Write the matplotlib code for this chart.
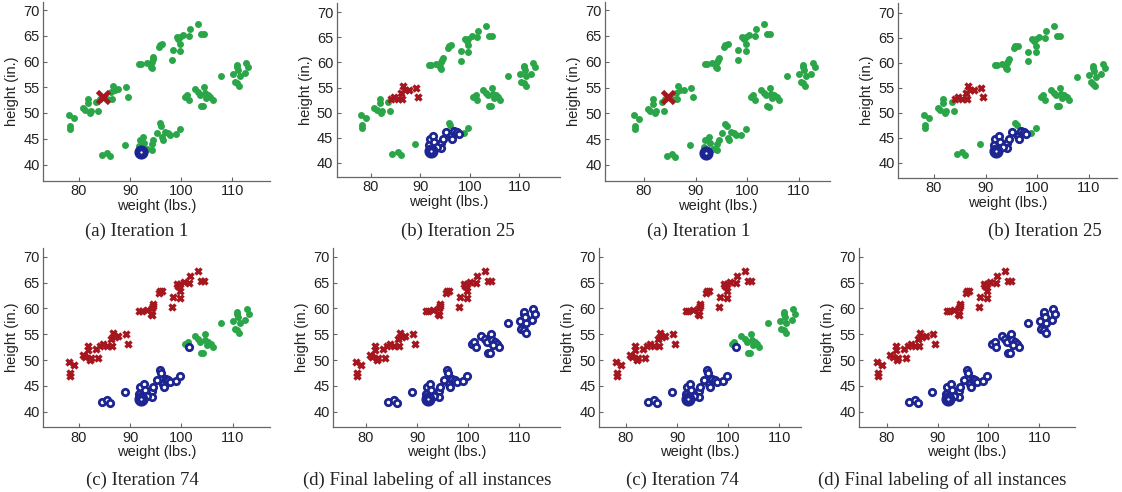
import numpy as np
import matplotlib
matplotlib.use("Agg")
from matplotlib import pyplot as plt

# instances: weight (lbs.), height (in.), grouped by band
weight = [
    # upper-left band
    78.1, 79.0, 78.2, 78.3, 80.7, 81.2, 81.8, 81.8, 82.1, 82.3, 83.8,
    83.4, 84.1, 84.7, 85.5, 86.4, 86.6, 87.0, 87.7, 89.2, 89.5, 86.2,
    # upper-middle band
    91.8, 92.2, 93.2, 94.2, 94.5, 94.0, 94.2, 94.4, 95.6, 95.8, 96.2, 98.3,
    98.2, 99.1, 99.4, 99.7, 99.7, 99.7, 100.4, 101.5, 101.7, 103.3, 103.9, 104.4,
    # lower band
    84.4, 85.5, 86.1, 89.0, 91.9, 92.6, 92.1, 91.7, 94.2, 94.5, 95.2, 95.8,
    96.0, 94.2, 96.3, 96.5, 96.9, 97.4, 97.8, 98.9, 99.7, 92.8, 93.3,
    # right-middle band
    100.7, 101.2, 101.5, 102.6, 103.3, 103.6, 104.5, 104.6, 103.9, 104.3,
    105.2, 105.7, 106.1, 104.9,
    # far-right band
    107.8, 110.1, 110.9, 110.9, 110.4, 110.9, 111.3, 111.4, 112.4, 112.7, 113.1, 111.1,
]
height = [
    49.6, 49.0, 47.5, 46.9, 50.9, 50.5, 52.7, 51.9, 50.0, 50.4, 50.4,
    52.2, 52.7, 53.1, 52.8, 52.7, 55.3, 54.5, 54.6, 55.0, 53.2, 54.0,
    59.5, 59.5, 59.7, 60.0, 60.8, 59.0, 58.7, 60.4, 62.9, 63.3, 63.4, 62.2,
    60.3, 64.7, 64.3, 64.7, 63.4, 62.1, 65.2, 65.0, 66.3, 67.3, 65.3, 65.3,
    41.8, 42.2, 41.6, 43.8, 44.8, 45.4, 42.4, 43.5, 44.0, 44.8, 46.1, 48.0,
    47.5, 42.9, 45.3, 44.8, 46.4, 46.1, 45.8, 45.9, 46.9, 44.2, 43.1,
    53.2, 53.5, 52.5, 54.6, 54.0, 53.5, 55.0, 53.8, 51.4, 51.3,
    53.5, 53.2, 52.5, 52.9,
    57.2, 57.6, 59.0, 59.3, 56.1, 55.8, 55.3, 57.2, 57.7, 59.8, 59.0, 58.4,
]

# g = unlabeled, r = class 1 (x), b = class 2 (o); bands separated by spaces
labels_a = ("ggggggggggggg r gggggggg "
            "gggggggggggggggggggggggg "
            "gggggg b gggggggggggggggg "
            "gggggggggggggg gggggggggggg")
labels_b = ("gggggggggggg rrrrrrrrrr "
            "gggggggggggggggggggggggg "
            "gggg bbbbbbb gg bbbbbb gg bb "
            "gggggggggggggg gggggggggggg")
labels_c = ("rrrrrrrrrrrrrrrrrrrrrr "
            "rrrrrrrrrrrrrrrrrrrrrrrr "
            "bbbbbbbbbbbbbbbbbbbbbbb "
            "ggbggggggggggg gggggggggggg")
labels_d = ("rrrrrrrrrrrrrrrrrrrrrr "
            "rrrrrrrrrrrrrrrrrrrrrrrr "
            "bbbbbbbbbbbbbbbbbbbbbbb "
            "bbbbbbbbbbbbbb bbbbbbbbbbbb")

seed_red = 13
seed_blue = 52

captions = ["(a) Iteration 1", "(b) Iteration 25",
            "(c) Iteration 74", "(d) Final labeling of all instances"]
xticks = [80, 90, 100, 110]
yticks = [40, 45, 50, 55, 60, 65, 70]

W, H = 1122, 492
green = '#2aa548'
red = '#a5161f'
blue = '#1c2591'

# pixel layout per panel: x80, x110, y70, y40, left, right, top, bottom, caption x, caption y
layout = [
    (79.0, 232.5, 10.0, 164.5, 43.0, 270.0, 2.0, 181.0, 137, 231),
    (370.7, 519.3, 12.3, 162.7, 336.7, 560.0, 3.0, 177.0, 458, 231),
    (644.0, 798.7, 10.0, 165.0, 605.0, 830.0, 2.0, 181.0, 699, 231),
    (934.0, 1088.7, 12.7, 162.7, 898.3, 1117.0, 3.0, 177.7, 1045, 231),
    (79.0, 232.7, 256.7, 411.7, 43.3, 270.0, 248.0, 427.3, 142, 480),
    (366.0, 519.3, 256.7, 411.7, 333.3, 560.0, 248.0, 427.3, 427, 480),
    (626.0, 779.3, 256.7, 411.7, 599.0, 800.7, 248.0, 427.3, 682, 480),
    (886.7, 1039.3, 256.7, 411.7, 859.0, 1075.0, 248.0, 427.3, 942, 480),
]
panel_labels = [labels_a, labels_b, labels_a, labels_b,
                labels_c, labels_d, labels_c, labels_d]
panel_caps = [captions[0], captions[1], captions[0], captions[1],
              captions[2], captions[3], captions[2], captions[3]]

plt.rcParams['font.family'] = ['Liberation Sans', 'DejaVu Sans']
fig = plt.figure(figsize=(W / 100, H / 100), dpi=100)

w = np.array(weight)
h = np.array(height)

for k, (x80, x110, y70, y40, left, right, top, bottom, cx, cy) in enumerate(layout):
    ax = fig.add_axes([left / W, 1 - bottom / H, (right - left) / W, (bottom - top) / H])
    sx = (x110 - x80) / 30.0
    sy = (y40 - y70) / 30.0
    ax.set_xlim(80 - (x80 - left) / sx, 110 + (right - x110) / sx)
    ax.set_ylim(40 - (bottom - y40) / sy, 70 + (y70 - top) / sy)

    lab = np.array(list(panel_labels[k].replace(" ", "")))
    seed_big = k in (0, 2)
    idx = np.arange(len(w))

    g = lab == 'g'
    ax.plot(w[g], h[g], 'o', ms=5.0, color=green, mew=0, ls='none')

    r = (lab == 'r') & ~((idx == seed_red) & seed_big)
    ax.plot(w[r], h[r], 'x', ms=5.0, color=red, mew=2.4, ls='none')
    if seed_big:
        ax.plot(w[seed_red], h[seed_red], 'x', ms=8.5, color=red, mew=3.4)

    b = (lab == 'b') & (idx != seed_blue)
    ax.plot(w[b], h[b], 'o', ms=4.6, mfc='white', mec=blue, mew=2.0, ls='none')
    ax.plot(w[seed_blue], h[seed_blue], 'o', ms=6.0, mfc='white', mec=blue, mew=4.2)

    ax.set_xticks(xticks)
    ax.set_yticks(yticks)
    for s in ('top', 'right'):
        ax.spines[s].set_visible(False)
    for s in ('left', 'bottom'):
        ax.spines[s].set_color('#666666')
        ax.spines[s].set_linewidth(0.9)
    ax.tick_params(direction='in', length=3, width=0.8, color='#666666',
                   labelsize=10.5, labelcolor='#222222', pad=2.5)
    ax.set_xlabel('weight (lbs.)', fontsize=10.5, color='#222222', labelpad=0.5)
    ax.set_ylabel('height (in.)', fontsize=10.5, color='#222222', labelpad=3)

    fig.text(cx / W, 1 - cy / H, panel_caps[k], ha='center', va='center',
             fontsize=13.5, family=['Liberation Serif', 'DejaVu Serif'], color='#222222')

fig.savefig('out.png', dpi=100)
